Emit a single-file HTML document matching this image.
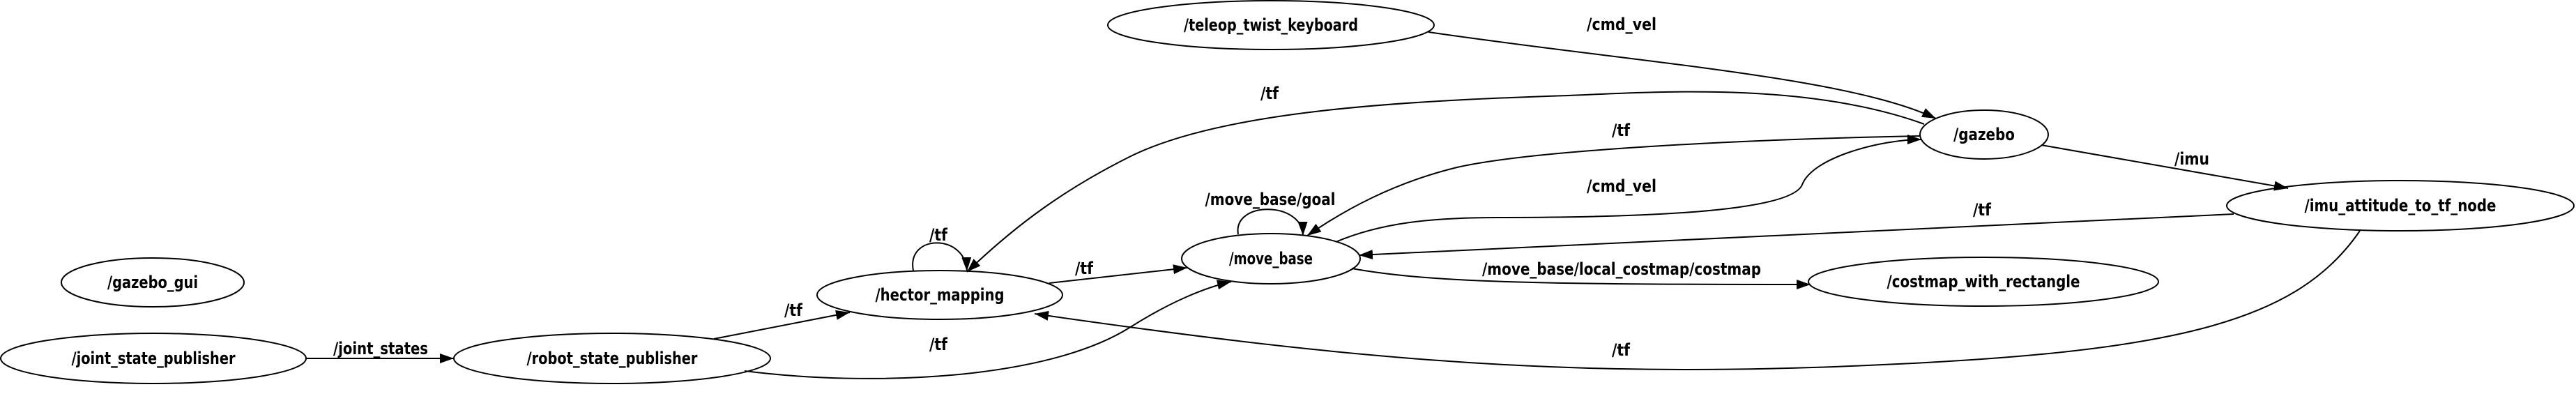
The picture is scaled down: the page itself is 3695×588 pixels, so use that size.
<!DOCTYPE html>
<html><head><meta charset="utf-8"><style>
html,body{margin:0;padding:0;background:#fff;}
svg{display:block;}
text{font-family:"DejaVu Sans Condensed","DejaVu Sans","Liberation Sans",sans-serif;font-size:24px;fill:#000;text-anchor:middle;font-weight:bold;}
</style></head><body>
<svg width="3695" height="588" viewBox="0 0 3695 588" xmlns="http://www.w3.org/2000/svg">
<defs>
<marker id="a" markerUnits="userSpaceOnUse" markerWidth="22" markerHeight="16" refX="20" refY="7" orient="auto">
<path d="M0,0 L20,7 L0,14 z" fill="#000"/>
</marker>
</defs>
<g fill="none" stroke="#000" stroke-width="2">
<ellipse cx="1823" cy="36" rx="234" ry="35"/>
<ellipse cx="219" cy="405" rx="131" ry="35"/>
<ellipse cx="220" cy="514" rx="219" ry="36"/>
<ellipse cx="878" cy="514" rx="227" ry="36"/>
<ellipse cx="1348" cy="423" rx="176" ry="35"/>
<ellipse cx="1823" cy="371" rx="128" ry="36"/>
<ellipse cx="2846" cy="193" rx="92" ry="35"/>
<ellipse cx="3443" cy="295" rx="249" ry="36"/>
<ellipse cx="2845" cy="404" rx="251" ry="35"/>

<path d="M439,514 L651,514" marker-end="url(#a)"/>
<path d="M1024,486 L1219,448" marker-end="url(#a)"/>
<path d="M1310,388 C1300,335 1385,335 1387,389" marker-end="url(#a)"/>
<path d="M1505,406 L1703,384" marker-end="url(#a)"/>
<path d="M1068,532 C1250,555 1500,545 1620,470 C1680,432 1730,412 1766,404" marker-end="url(#a)"/>
<path d="M1776,336 C1768,288 1868,288 1869,338" marker-end="url(#a)"/>
<path d="M2760,178 C2600,120 2400,130 2250,137 C2000,145 1750,160 1620,225 C1530,270 1460,320 1387,390" marker-end="url(#a)"/>
<path d="M2754,195 C2500,200 2200,215 2090,240 C2000,262 1930,300 1875,338" marker-end="url(#a)"/>
<path d="M1916,347 C1980,320 2050,312 2150,312 C2400,312 2570,300 2585,265 C2600,225 2700,200 2756,200" marker-end="url(#a)"/>
<path d="M2049,46 C2350,90 2650,110 2777,170" marker-end="url(#a)"/>
<path d="M2928,208 L3282,270" marker-end="url(#a)"/>
<path d="M3204,307 L1949,366" marker-end="url(#a)"/>
<path d="M1939,385 C2050,405 2200,408 2597,408" marker-end="url(#a)"/>
<path d="M3385,331 C3290,470 3100,510 2600,527 C2200,540 1900,510 1484,450" marker-end="url(#a)"/>
</g>
<g>
<text x="1823" y="44" textLength="250" lengthAdjust="spacingAndGlyphs">/teleop_twist_keyboard</text>
<text x="219" y="413" textLength="130" lengthAdjust="spacingAndGlyphs">/gazebo_gui</text>
<text x="220" y="522" textLength="235" lengthAdjust="spacingAndGlyphs">/joint_state_publisher</text>
<text x="878" y="522" textLength="245" lengthAdjust="spacingAndGlyphs">/robot_state_publisher</text>
<text x="1348" y="431" textLength="185" lengthAdjust="spacingAndGlyphs">/hector_mapping</text>
<text x="1823" y="379" textLength="120" lengthAdjust="spacingAndGlyphs">/move_base</text>
<text x="2846" y="201" textLength="88" lengthAdjust="spacingAndGlyphs">/gazebo</text>
<text x="3443" y="303" textLength="275" lengthAdjust="spacingAndGlyphs">/imu_attitude_to_tf_node</text>
<text x="2845" y="412" textLength="277" lengthAdjust="spacingAndGlyphs">/costmap_with_rectangle</text>

<text x="546" y="508" textLength="136" lengthAdjust="spacingAndGlyphs">/joint_states</text>
<text x="1138" y="453" textLength="26" lengthAdjust="spacingAndGlyphs">/tf</text>
<text x="1346" y="345" textLength="26" lengthAdjust="spacingAndGlyphs">/tf</text>
<text x="1555" y="393" textLength="26" lengthAdjust="spacingAndGlyphs">/tf</text>
<text x="1346" y="502" textLength="26" lengthAdjust="spacingAndGlyphs">/tf</text>
<text x="1821" y="142" textLength="26" lengthAdjust="spacingAndGlyphs">/tf</text>
<text x="1822" y="294" textLength="187" lengthAdjust="spacingAndGlyphs">/move_base/goal</text>
<text x="2326" y="43" textLength="100" lengthAdjust="spacingAndGlyphs">/cmd_vel</text>
<text x="2325" y="195" textLength="26" lengthAdjust="spacingAndGlyphs">/tf</text>
<text x="2326" y="275" textLength="100" lengthAdjust="spacingAndGlyphs">/cmd_vel</text>
<text x="3144" y="236" textLength="50" lengthAdjust="spacingAndGlyphs">/imu</text>
<text x="2843" y="309" textLength="26" lengthAdjust="spacingAndGlyphs">/tf</text>
<text x="2326" y="394" textLength="400" lengthAdjust="spacingAndGlyphs">/move_base/local_costmap/costmap</text>
<text x="2325" y="510" textLength="26" lengthAdjust="spacingAndGlyphs">/tf</text>
</g>
</svg>
</body></html>
